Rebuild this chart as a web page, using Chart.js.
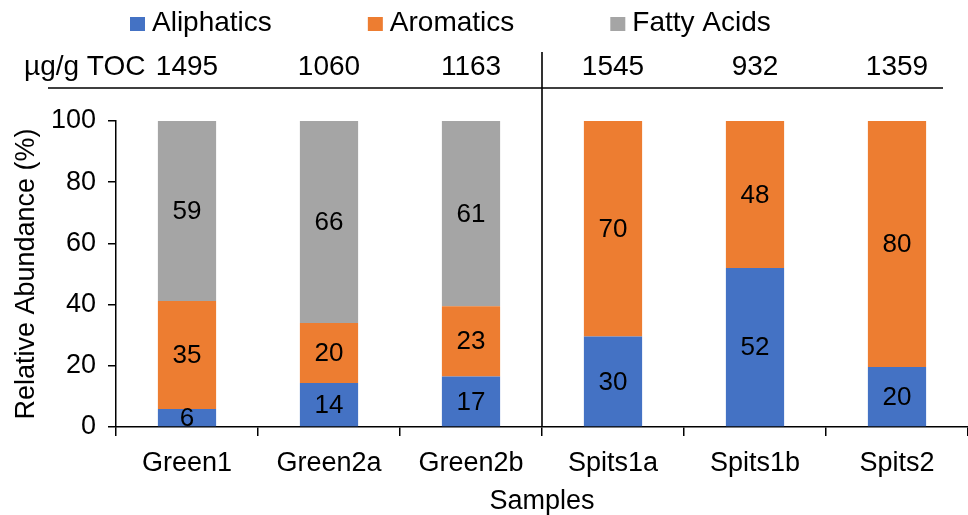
<!DOCTYPE html>
<html>
<head>
<meta charset="utf-8">
<script src="https://cdn.jsdelivr.net/npm/chart.js@4/dist/chart.umd.min.js"></script>
<style>
  html, body { margin: 0; padding: 0; background: #fff; }
  #wrap { width: 968px; height: 515px; }
</style>
</head>
<body>
<div id="wrap"><canvas id="graph1"></canvas></div>
<script>
const samples = ["Green1", "Green2a", "Green2b", "Spits1a", "Spits1b", "Spits2"];
const aliphatics = [5.9, 14.4, 16.5, 29.6, 52, 19.6];
const aromatics = [35.3, 19.6, 23, 70.4, 48, 80.4];
const fattyAcids = [58.8, 66, 60.5, 0, 0, 0];
const totals = [1495, 1060, 1163, 1545, 932, 1359];
const yTicks = [0, 20, 40, 60, 80, 100];

const FONT = "'Liberation Sans', Arial, sans-serif";
Chart.defaults.font.family = FONT;
Chart.defaults.color = '#000';

// numbers inside the bars, legend and the TOC row on top
const extras = {
  id: 'extras',
  afterDatasetsDraw(chart) {
    const ctx = chart.ctx;
    ctx.save();
    ctx.fillStyle = '#000';
    ctx.font = "26px " + FONT;
    ctx.textAlign = 'center';
    ctx.textBaseline = 'middle';
    chart.data.datasets.forEach((ds, i) => {
      chart.getDatasetMeta(i).data.forEach((bar, j) => {
        const v = ds.data[j];
        if (!v) return;
        const p = bar.getProps(['x', 'y', 'base'], true);
        ctx.fillText(Math.round(v), p.x, (p.y + p.base) / 2 + 1);
      });
    });
    ctx.restore();
  },
  afterDraw(chart) {
    const ctx = chart.ctx;
    const xs = chart.scales.x;
    ctx.save();
    ctx.fillStyle = '#000';
    ctx.font = "28px " + FONT;
    ctx.textBaseline = 'middle';

    // legend
    let lx = 130;
    chart.data.datasets.forEach(ds => {
      ctx.fillStyle = ds.backgroundColor;
      ctx.fillRect(lx, 17, 15, 14);
      ctx.fillStyle = '#000';
      ctx.textAlign = 'left';
      ctx.fillText(ds.label, lx + 22, 23);
      lx += 22 + ctx.measureText(ds.label).width + 96;
    });

    // totals row
    ctx.textAlign = 'left';
    ctx.fillText('µg/g TOC', 24, 67);
    ctx.textAlign = 'center';
    totals.forEach((t, i) => {
      ctx.fillText(t, xs.getPixelForValue(i), 67);
    });

    ctx.strokeStyle = '#000';
    ctx.lineWidth = 1.6;
    ctx.beginPath();
    ctx.moveTo(48, 88);
    ctx.lineTo(943, 88);
    const sep = (xs.getPixelForValue(2) + xs.getPixelForValue(3)) / 2;
    ctx.moveTo(sep, 52);
    ctx.lineTo(sep, chart.chartArea.bottom);
    ctx.stroke();
    ctx.restore();
  }
};

new Chart(document.getElementById('graph1'), {
  type: 'bar',
  data: {
    labels: samples,
    datasets: [
      { label: 'Aliphatics', data: aliphatics, backgroundColor: '#4472C4' },
      { label: 'Aromatics', data: aromatics, backgroundColor: '#ED7D31' },
      { label: 'Fatty Acids', data: fattyAcids, backgroundColor: '#A5A5A5' }
    ]
  },
  options: {
    responsive: true,
    maintainAspectRatio: false,
    animation: false,
    layout: { padding: { top: 121, left: 0, right: 0, bottom: 0 } },
    datasets: { bar: { categoryPercentage: 1, barPercentage: 0.41 } },
    plugins: {
      legend: { display: false },
      tooltip: { enabled: false }
    },
    scales: {
      x: {
        stacked: true,
        offset: true,
        grid: { offset: true, drawOnChartArea: false, drawTicks: true, tickLength: 9, color: '#000', lineWidth: 1.5 },
        border: { display: true, color: '#000', width: 1.5 },
        ticks: { font: { size: 27 }, color: '#000', padding: 11 },
        title: { display: true, text: 'Samples', font: { size: 27, lineHeight: 1 }, color: '#000', padding: { top: 0, bottom: 0 } },
        afterFit(s) { s.height = 88; }
      },
      y: {
        stacked: true,
        min: 0,
        max: 100,
        afterBuildTicks(s) { s.ticks = yTicks.map(v => ({ value: v })); },
        grid: { drawOnChartArea: false, drawTicks: true, tickLength: 8, color: '#000', lineWidth: 1.5 },
        border: { display: true, color: '#000', width: 1.5 },
        ticks: { font: { size: 27 }, color: '#000', padding: 12 },
        title: { display: true, text: 'Relative Abundance (%)', font: { size: 27 }, color: '#000', padding: { top: 10, bottom: 0 } },
        afterFit(s) { s.width = 116; }
      }
    }
  },
  plugins: [extras]
});
</script>
</body>
</html>
